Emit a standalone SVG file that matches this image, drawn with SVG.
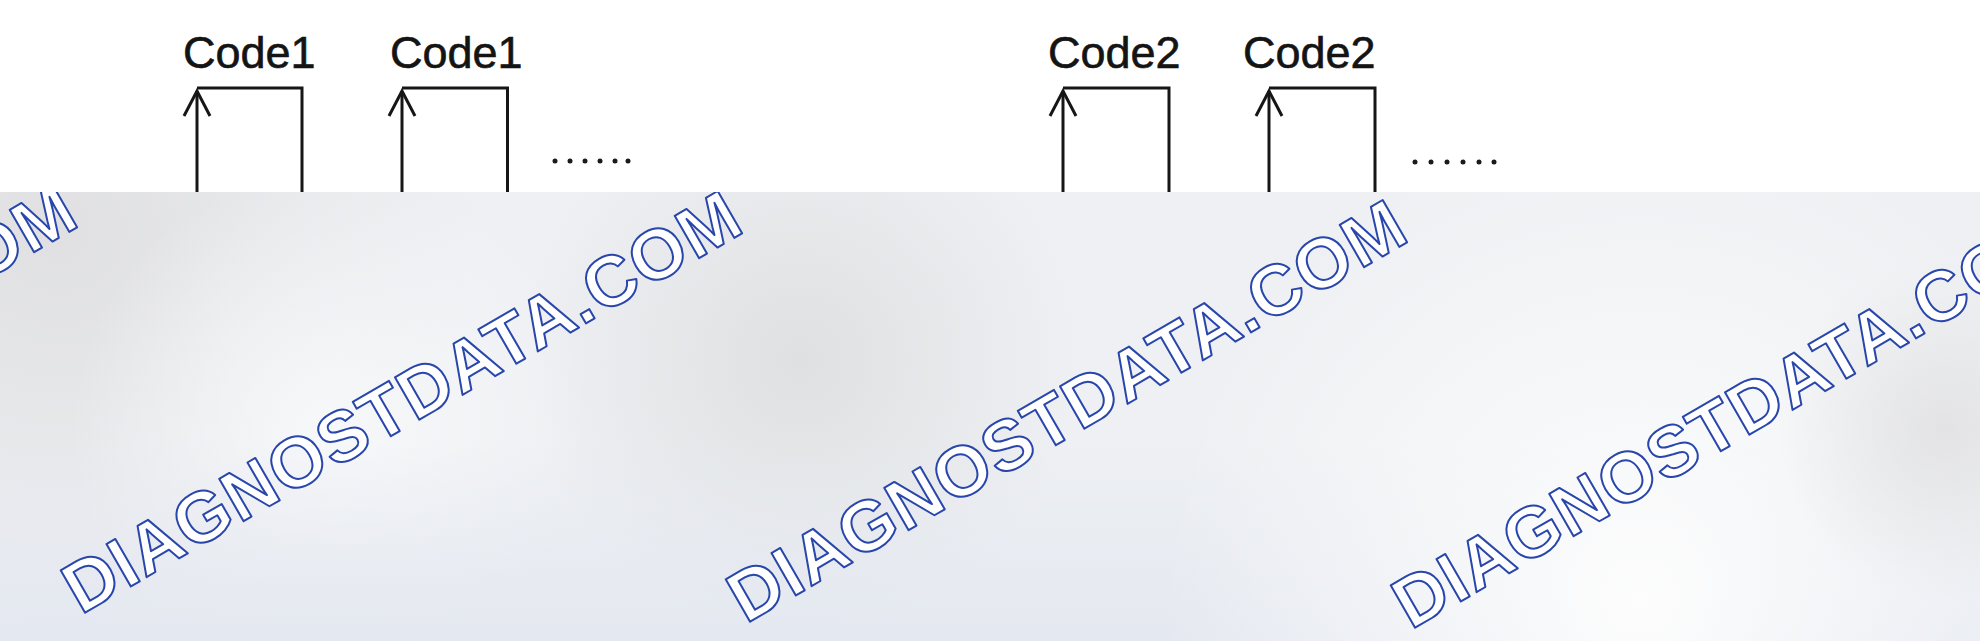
<svg xmlns="http://www.w3.org/2000/svg" width="1980" height="641" viewBox="0 0 1980 641">
  <style>
    .lbl { font-family: "Liberation Sans", Arial, sans-serif; font-size: 45px; fill: #141414; stroke: #141414; stroke-width: 0.6; }
    .wire { fill: none; stroke: #161616; stroke-width: 3; stroke-linejoin: miter; }
    .dots { fill: #1a1a1a; }
    .wm { font-family: "Liberation Sans", Arial, sans-serif; font-size: 71px; font-weight: bold; fill: #ffffff; stroke: #2846ab; stroke-width: 2; stroke-linejoin: round; }
  </style>
  <defs>
    <marker id="chev" markerUnits="userSpaceOnUse" markerWidth="40" markerHeight="40" refX="0" refY="0" viewBox="-30 -20 40 40" orient="auto" overflow="visible">
      <path d="M -25 -13 L 0 0 L -25 13" fill="none" stroke="#161616" stroke-width="3" stroke-linejoin="miter"/>
    </marker>
    <clipPath id="band">
      <rect x="0" y="192" width="1980" height="449"/>
    </clipPath>
    <radialGradient id="gTL" cx="60" cy="230" r="420" gradientUnits="userSpaceOnUse">
      <stop offset="0" stop-color="#e0e0e2"/>
      <stop offset="1" stop-color="#e0e0e2" stop-opacity="0"/>
    </radialGradient>
    <radialGradient id="gDark" cx="800" cy="360" r="280" gradientUnits="userSpaceOnUse">
      <stop offset="0" stop-color="#dfe0e2"/>
      <stop offset="1" stop-color="#dfe0e2" stop-opacity="0"/>
    </radialGradient>
    <radialGradient id="gLight" cx="330" cy="430" r="260" gradientUnits="userSpaceOnUse">
      <stop offset="0" stop-color="#f7f8fa"/>
      <stop offset="1" stop-color="#f7f8fa" stop-opacity="0"/>
    </radialGradient>
    <radialGradient id="gWhite" cx="1640" cy="600" r="480" gradientUnits="userSpaceOnUse">
      <stop offset="0" stop-color="#fdfdfd"/>
      <stop offset="1" stop-color="#fdfdfd" stop-opacity="0"/>
    </radialGradient>
    <radialGradient id="gRight" cx="1945" cy="430" r="170" gradientUnits="userSpaceOnUse">
      <stop offset="0" stop-color="#e3e3e5"/>
      <stop offset="1" stop-color="#e3e3e5" stop-opacity="0"/>
    </radialGradient>
    <linearGradient id="gBottom" x1="0" y1="440" x2="0" y2="641" gradientUnits="userSpaceOnUse">
      <stop offset="0" stop-color="#e4e8f0" stop-opacity="0"/>
      <stop offset="1" stop-color="#e4e8f0"/>
    </linearGradient>
  </defs>

  <rect x="0" y="0" width="1980" height="641" fill="#ffffff"/>

  <g id="labels">
    <g id="code1-a"><text class="lbl" x="183" y="68">Code1</text></g>
    <g id="code1-b"><text class="lbl" x="390" y="68">Code1</text></g>
    <g id="code2-a"><text class="lbl" x="1048" y="68">Code2</text></g>
    <g id="code2-b"><text class="lbl" x="1243" y="68">Code2</text></g>
    <g id="dots-1" class="dots">
      <circle cx="555" cy="161" r="2.5"/><circle cx="570" cy="161" r="2.5"/><circle cx="585" cy="161" r="2.5"/>
      <circle cx="600" cy="161" r="2.5"/><circle cx="615" cy="161" r="2.5"/><circle cx="628" cy="161" r="2.5"/>
    </g>
    <g id="dots-2" class="dots">
      <circle cx="1415" cy="162" r="2.5"/><circle cx="1431" cy="162" r="2.5"/><circle cx="1447" cy="162" r="2.5"/>
      <circle cx="1463" cy="162" r="2.5"/><circle cx="1479" cy="162" r="2.5"/><circle cx="1494" cy="162" r="2.5"/>
    </g>
  </g>

  <g id="connectors">
    <path class="wire" d="M 197 200 V 91" marker-end="url(#chev)"/>
    <path class="wire" d="M 197 88 H 302 V 200"/>
    <path class="wire" d="M 402 200 V 91" marker-end="url(#chev)"/>
    <path class="wire" d="M 402 88 H 507.5 V 200"/>
    <path class="wire" d="M 1063 200 V 91" marker-end="url(#chev)"/>
    <path class="wire" d="M 1063 88 H 1169 V 200"/>
    <path class="wire" d="M 1269 200 V 91" marker-end="url(#chev)"/>
    <path class="wire" d="M 1269 88 H 1375 V 200"/>
  </g>

  <g id="overlay">
    <rect x="0" y="192" width="1980" height="449" fill="#eef0f3"/>
    <rect x="0" y="192" width="1980" height="449" fill="url(#gTL)"/>
    <rect x="0" y="192" width="1980" height="449" fill="url(#gDark)"/>
    <rect x="0" y="192" width="1980" height="449" fill="url(#gLight)"/>
    <rect x="0" y="192" width="1980" height="449" fill="url(#gBottom)"/>
    <rect x="0" y="192" width="1980" height="449" fill="url(#gWhite)"/>
    <rect x="0" y="192" width="1980" height="449" fill="url(#gRight)"/>
  </g>

  <g id="watermarks" clip-path="url(#band)">
    <text class="wm" transform="translate(-584 609) rotate(-30)" textLength="768" lengthAdjust="spacing">DIAGNOSTDATA.COM</text>
    <text class="wm" transform="translate(81 615) rotate(-30)" textLength="768" lengthAdjust="spacing">DIAGNOSTDATA.COM</text>
    <text class="wm" transform="translate(746 624) rotate(-30)" textLength="768" lengthAdjust="spacing">DIAGNOSTDATA.COM</text>
    <text class="wm" transform="translate(1411 630) rotate(-30)" textLength="768" lengthAdjust="spacing">DIAGNOSTDATA.COM</text>
  </g>
</svg>
